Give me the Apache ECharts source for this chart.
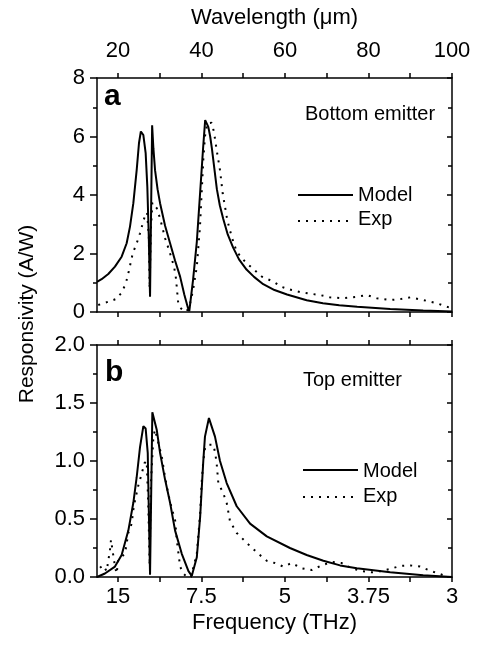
<!DOCTYPE html>
<html>
<head>
<meta charset="utf-8">
<script src="https://cdn.jsdelivr.net/npm/echarts@6/dist/echarts.min.js"></script>
<style>html,body{margin:0;padding:0;background:#fff}#c{width:480px;height:646px}</style>
</head>
<body>
<div id="c"></div>
<script>
// ---- data (wavelength in micrometres, responsivity in A/W) ----
const aModelX = [15, 16.1, 17.7, 19.3, 20.9, 22.1, 22.9, 23.7, 24.5, 25.05, 25.5, 26.1, 26.65, 27.05, 27.4, 27.7, 27.75, 28.2, 28.5, 28.9, 29.5, 30.1, 31.3, 32.5, 33.7, 34.9, 35.9, 36.8, 37.1, 38.0, 38.9, 39.7, 40.4, 40.9, 41.2, 41.65, 42.1, 42.5, 43.1, 43.7, 44.4, 45.2, 46.3, 47.6, 49.0, 50.8, 52.6, 54.8, 57.5, 60.5, 65.2, 69.1, 73, 77.3, 85.2, 93.1, 100];
const aModelY = [1.03, 1.12, 1.3, 1.55, 1.89, 2.35, 2.92, 3.72, 4.85, 5.77, 6.17, 6.05, 5.43, 4.28, 2.57, 0.52, 0.52, 6.38, 5.6, 4.85, 4.2, 3.72, 2.95, 2.35, 1.75, 1.21, 0.6, 0.13, 0.03, 1.1, 2.4, 4.1, 5.6, 6.56, 6.5, 6.33, 6.0, 5.6, 4.9, 4.2, 3.65, 3.2, 2.65, 2.2, 1.8, 1.45, 1.2, 0.95, 0.75, 0.6, 0.4, 0.3, 0.23, 0.18, 0.1, 0.05, 0.02];
const aExpX = [15.3, 16.5, 17.7, 19.5, 20.9, 21.9, 22.5, 23.55, 24.5, 25.3, 25.95, 26.5, 27.0, 27.4, 27.6, 27.9, 28.25, 29.3, 30.1, 31.3, 32.25, 33.45, 33.9, 34.45, 34.9, 35.7, 36.5, 37.3, 38.0, 38.9, 39.65, 40.05, 40.45, 40.85, 41.4, 42.45, 43.0, 43.65, 44.45, 45.1, 45.65, 46.2, 47.25, 48.45, 50.45, 54.45, 57.2, 59.2, 61.6, 64.0, 66.4, 68.4, 70.8, 74.0, 77.2, 79.6, 82.0, 85.2, 87.6, 90.0, 93.1, 96.35, 98.75, 100];
const aExpY = [0.24, 0.3, 0.35, 0.44, 0.66, 0.98, 1.32, 2.0, 2.35, 2.69, 3.03, 3.3, 3.4, 2.6, 0.8, 2.8, 3.74, 3.55, 3.2, 2.52, 2.12, 1.55, 1.16, 0.3, 0.15, 0.05, 0.02, 0.3, 0.75, 1.55, 2.9, 4.05, 5.2, 6.0, 6.45, 6.47, 6.16, 5.54, 4.85, 4.05, 3.6, 3.14, 2.57, 2.06, 1.72, 1.21, 1.04, 0.86, 0.75, 0.67, 0.62, 0.58, 0.5, 0.47, 0.52, 0.58, 0.47, 0.41, 0.44, 0.5, 0.41, 0.3, 0.18, 0.12];

const bModelX = [15, 16.9, 19.3, 20.9, 22.5, 23.7, 24.5, 25.3, 26.1, 26.65, 27.15, 27.45, 27.7, 27.75, 28.25, 29.3, 30.1, 31.3, 32.5, 33.7, 35.3, 36.9, 37.7, 38.9, 39.7, 40.45, 40.85, 41.8, 43.25, 44.45, 46.05, 48.45, 51.65, 55.65, 61.2, 65.2, 69.2, 73.2, 77.2, 85.2, 93.1, 100];
const bModelY = [0.0, 0.03, 0.09, 0.19, 0.4, 0.64, 0.86, 1.12, 1.3, 1.28, 1.07, 0.49, 0.02, 0.02, 1.42, 1.27, 1.07, 0.84, 0.64, 0.4, 0.2, 0.05, 0.01, 0.17, 0.52, 1.0, 1.21, 1.37, 1.21, 1.0, 0.81, 0.61, 0.46, 0.35, 0.25, 0.19, 0.14, 0.1, 0.075, 0.04, 0.015, 0.0];
const bExpX = [15.7, 16.5, 17.3, 18.1, 18.35, 19.3, 19.7, 20.1, 21.7, 22.5, 23.3, 23.7, 24.1, 24.9, 25.7, 26.35, 26.9, 27.3, 27.6, 27.9, 28.5, 28.9, 30.5, 31.3, 32.1, 32.9, 33.7, 34.1, 34.9, 35.7, 36.5, 37.5, 38.9, 39.7, 40.05, 40.45, 40.9, 41.7, 42.85, 43.3, 43.65, 44.05, 45.25, 46.05, 46.85, 48.45, 51.25, 53.65, 55.65, 57.6, 59.6, 61.6, 64.0, 66.4, 68.8, 71.2, 73.6, 76.0, 78.4, 80.8, 82.8, 85.2, 87.6, 90.0, 92.35, 94.75, 97.15, 99.1];
const bExpY = [0.08, 0.1, 0.05, 0.23, 0.32, 0.09, 0.03, 0.15, 0.2, 0.38, 0.46, 0.58, 0.66, 0.79, 0.89, 0.98, 1.0, 0.6, 0.1, 0.8, 1.21, 1.27, 1.04, 0.86, 0.71, 0.59, 0.49, 0.32, 0.09, 0.03, 0.0, 0.0, 0.2, 0.55, 0.81, 1.0, 1.12, 1.14, 1.14, 1.07, 0.98, 0.81, 0.72, 0.64, 0.48, 0.38, 0.28, 0.2, 0.14, 0.12, 0.09, 0.12, 0.075, 0.06, 0.1, 0.13, 0.12, 0.075, 0.05, 0.04, 0.05, 0.07, 0.095, 0.1, 0.09, 0.055, 0.025, 0.0];

// tick positions / labels
const wlLabelVals = [20, 40, 60, 80, 100];
const wlTickVals = [20, 30, 40, 50, 60, 70, 80, 90, 100];
const freqLabels = ['15', '7.5', '5', '3.75', '3'];
const seriesNames = ['Model', 'Exp'];

const zip = (xs, ys) => xs.map((x, i) => [x, ys[i]]);
const FONT = 'Liberation Sans, Arial, sans-serif';
const black = '#000';
const DOT = [2, 6];

function xAxis(grid, pos, showLabel, fmt, name, nameGap) {
  return {
    type: 'value', gridIndex: grid, position: pos, min: 15, max: 100,
    axisLine: { show: true, onZero: false, lineStyle: { color: black, width: 1.5 } },
    axisTick: { show: true, customValues: wlTickVals, length: 5, lineStyle: { color: black, width: 1.5 } },
    axisLabel: { show: showLabel, customValues: wlLabelVals, fontSize: 22, fontFamily: FONT, color: black, margin: pos === 'top' ? 16 : 9, formatter: fmt },
    splitLine: { show: false },
    name: name || '', nameLocation: 'middle', nameGap: nameGap || 0,
    nameTextStyle: { fontSize: 22, fontFamily: FONT, color: black }
  };
}
function yAxis(grid, pos, max, interval, showLabel, fmt) {
  const inside = pos === 'right';
  return {
    type: 'value', gridIndex: grid, position: pos, min: 0, max: max, interval: interval,
    axisLine: { show: true, onZero: false, lineStyle: { color: black, width: 1.5 } },
    axisTick: { show: true, inside: inside, length: inside ? 5 : 7, lineStyle: { color: black, width: 1.5 } },
    minorTick: { show: true, splitNumber: 2, length: 4, lineStyle: { color: black, width: 1.5 } },
    axisLabel: { show: showLabel, fontSize: 22, fontFamily: FONT, color: black, margin: 12, formatter: fmt },
    splitLine: { show: false }
  };
}
function lineSeries(name, xi, yi, data, dotted) {
  return {
    type: 'line', name: name, xAxisIndex: xi, yAxisIndex: yi, data: data,
    symbol: 'none', showSymbol: false, smooth: false,
    itemStyle: { color: black },
    lineStyle: dotted ? { color: black, width: 2, type: DOT } : { color: black, width: 2 }
  };
}
// legend key drawn as graphic: line sample + label
function key(x1, x2, y, label, ty, dotted) {
  return [
    { type: 'line', shape: { x1: x1, y1: y, x2: x2, y2: y },
      style: { stroke: black, lineWidth: 2, lineDash: dotted ? DOT : null } },
    { type: 'text', x: x2 + 5, y: ty,
      style: { text: label, font: '20px ' + FONT, fill: black, align: 'left', verticalAlign: 'middle' } }
  ];
}

const chart = echarts.init(document.getElementById('c'), null, { renderer: 'canvas' });
chart.setOption({
  animation: false,
  backgroundColor: '#fff',
  textStyle: { fontFamily: FONT },
  grid: [
    { left: 97, right: 28, top: 78, height: 234 },
    { left: 97, right: 28, top: 345, height: 232 }
  ],
  xAxis: [
    xAxis(0, 'top', true, v => String(v), 'Wavelength (μm)', 49),
    xAxis(0, 'bottom', false),
    xAxis(1, 'top', false),
    xAxis(1, 'bottom', true, v => freqLabels[wlLabelVals.indexOf(v)], 'Frequency (THz)', 35)
  ],
  yAxis: [
    yAxis(0, 'left', 8, 2, true, v => String(v)),
    yAxis(0, 'right', 8, 2, false),
    yAxis(1, 'left', 2, 0.5, true, v => v.toFixed(1)),
    yAxis(1, 'right', 2, 0.5, false)
  ],
  series: [
    lineSeries(seriesNames[0], 0, 0, zip(aModelX, aModelY), false),
    lineSeries(seriesNames[1], 0, 0, zip(aExpX, aExpY), true),
    lineSeries(seriesNames[0], 3, 2, zip(bModelX, bModelY), false),
    lineSeries(seriesNames[1], 3, 2, zip(bExpX, bExpY), true)
  ],
  graphic: [].concat(
    key(298, 353, 195, seriesNames[0], 195, false),
    key(298, 353, 221, seriesNames[1], 219, true),
    key(303, 358, 470, seriesNames[0], 471, false),
    key(303, 358, 497, seriesNames[1], 496, true),
    [
      { type: 'text', left: 104, top: 82, style: { text: 'a', font: 'bold 30px ' + FONT, fill: black } },
      { type: 'text', left: 105, top: 358, style: { text: 'b', font: 'bold 30px ' + FONT, fill: black } },
      { type: 'text', left: 305, top: 104, style: { text: 'Bottom emitter', font: '20px ' + FONT, fill: black } },
      { type: 'text', left: 303, top: 370, style: { text: 'Top emitter', font: '20px ' + FONT, fill: black } },
      { type: 'text', x: 27, y: 314, rotation: Math.PI / 2,
        style: { text: 'Responsivity (A/W)', font: '21px ' + FONT, fill: black, align: 'center', verticalAlign: 'middle' } }
    ]
  )
});
</script>
</body>
</html>
